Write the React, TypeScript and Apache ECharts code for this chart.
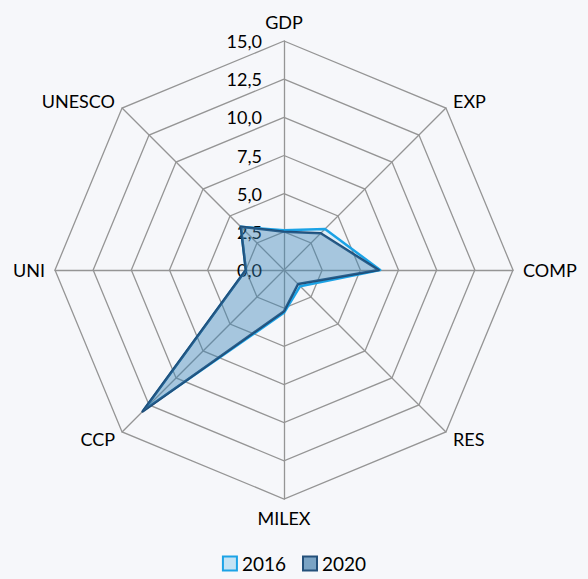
import React, { useEffect, useRef } from "react";
import * as echarts from "echarts";

// indicator order (counter-clockwise in ECharts from top)
const indicators = ["GDP", "UNESCO", "UNI", "CCP", "MILEX", "RES", "COMP", "EXP"];
const values2016 = [2.6, 4.0, 2.5, 13.0, 2.8, 1.5, 6.3, 3.8];
const values2020 = [2.5, 4.0, 2.5, 13.1, 2.7, 1.3, 6.2, 3.4];
const seriesNames = ["2016", "2020"];
const axisMax = 15;
const splitCount = 6;

const FONT = "Lato, 'Open Sans', sans-serif";

export default function App() {
  const ref = useRef<HTMLDivElement>(null);
  useEffect(() => {
    document.body.style.margin = "0";
    const chart = echarts.init(ref.current!, undefined, { renderer: "svg" });
    chart.setOption({
      animation: false,
      backgroundColor: "#f6f7fa",
      legend: {
        bottom: 1,
        left: "center",
        itemWidth: 14,
        itemHeight: 14,
        itemGap: 16,
        icon: "rect",
        textStyle: { fontFamily: FONT, fontSize: 19, color: "#000" },
        data: [
          { name: seriesNames[0], itemStyle: { color: "#c4e3f4", borderColor: "#1ca3e6", borderWidth: 2 } },
          { name: seriesNames[1], itemStyle: { color: "#7aa3c4", borderColor: "#24507a", borderWidth: 2 } },
        ],
      },
      radar: {
        center: [284, 270],
        radius: 229,
        startAngle: 90,
        splitNumber: splitCount,
        shape: "polygon",
        indicator: indicators.map((name, i) => ({
          name,
          min: 0,
          max: axisMax,
          ...(i === 0
            ? {
                axisLabel: {
                  show: true,
                  fontFamily: FONT,
                  fontSize: 18,
                  color: "#000",
                  margin: 22,
                  formatter: (v: number) => v.toFixed(1).replace(".", ","),
                },
              }
            : {}),
        })),
        axisName: { color: "#000", fontFamily: FONT, fontSize: 18 },
        nameGap: 10,
        axisLabel: { show: false },
        axisLine: { lineStyle: { color: "#959595", width: 1.3 } },
        splitLine: { lineStyle: { color: "#959595", width: 1.3 } },
        splitArea: { show: false },
      },
      series: [
        {
          type: "radar",
          symbol: "none",
          data: [
            {
              name: seriesNames[0],
              value: values2016,
              lineStyle: { color: "#1ca3e6", width: 2.5 },
              areaStyle: { color: "rgba(30,160,230,0.15)" },
              itemStyle: { color: "#1ca3e6" },
            },
            {
              name: seriesNames[1],
              value: values2020,
              lineStyle: { color: "#1f4e79", width: 2.5 },
              areaStyle: { color: "rgba(61,127,176,0.5)" },
              itemStyle: { color: "#1f4e79" },
            },
          ],
        },
      ],
    });
    return () => chart.dispose();
  }, []);
  return <div ref={ref} style={{ position: "fixed", left: 0, top: 0, width: 588, height: 579 }} />;
}
